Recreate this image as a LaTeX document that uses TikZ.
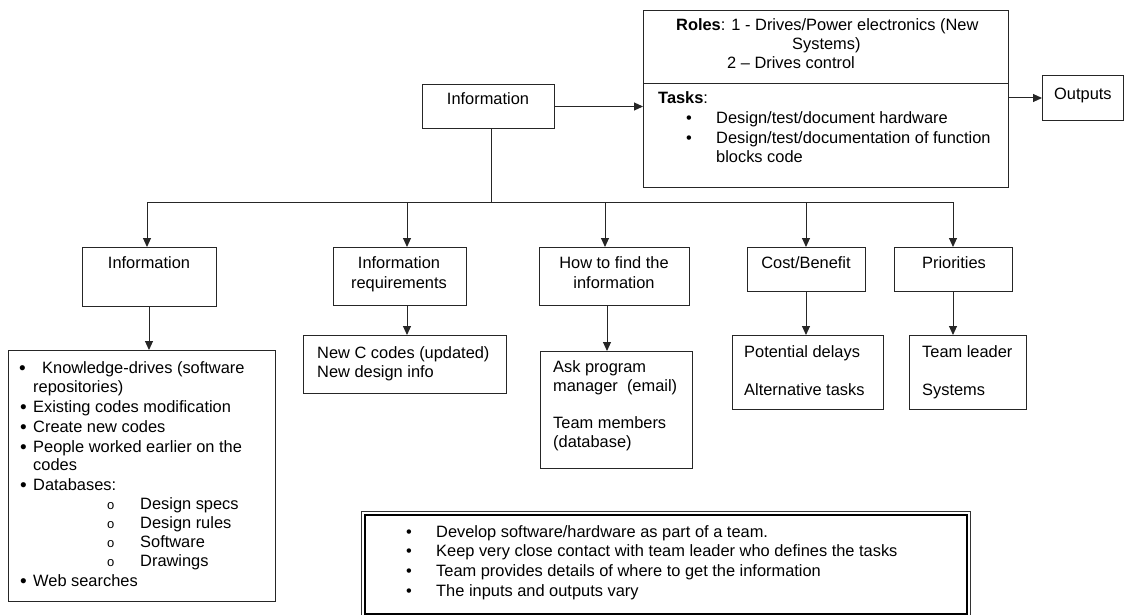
\documentclass[tikz,border=0pt]{standalone}
\usepackage{fontspec}
\setmainfont{Liberation Sans}
\usetikzlibrary{arrows.meta}
\newcommand\bodyfont{\fontsize{16.4}{19.5}\selectfont}
\begin{document}
\begin{tikzpicture}[x=1pt,y=-1pt,
  box/.style={draw=black!85, line width=1pt, inner sep=0pt, anchor=north west},
  lbl/.style={anchor=base west, inner sep=0pt, font=\bodyfont},
  clbl/.style={anchor=base, inner sep=0pt, font=\bodyfont},
  dot/.style={anchor=base west, inner sep=0pt, font=\fontsize{19}{20}\selectfont},
  sub/.style={anchor=base west, inner sep=0pt, font=\fontsize{13}{14}\selectfont},
  wire/.style={draw=black!85, line width=1pt},
  arr/.style={wire, -{Triangle[length=9pt,width=8pt]}}]
\useasboundingbox (0,0) rectangle (1125,615);

% top row
\node[box, minimum width=132pt, minimum height=44pt] (info) at (422,84) {};
\node[box, minimum width=365pt, minimum height=177pt] (rt) at (643,10) {};
\node[box, minimum width=81pt, minimum height=45pt] (out) at (1042,75) {};
\draw[wire] (rt.west |- 0,84) -- (rt.east |- 0,84);

\node[clbl] (tinfo) at (488,105) {Information};
\node[lbl] (rl1) at (676,31) {\textbf{Roles}: 1 - Drives/Power electronics (New};
\node[lbl] (rl2) at (792,50) {Systems)};
\node[lbl] (rl3) at (727,69) {2 – Drives control};
\node[lbl] (tk0) at (658,104) {\textbf{Tasks}:};
\node[lbl] (tkb1) at (686,124) {•};
\node[lbl] (tk1) at (716,124) {Design/test/document hardware};
\node[lbl] (tkb2) at (686,144) {•};
\node[lbl] (tk2) at (716,144) {Design/test/documentation of function};
\node[lbl] (tk3) at (716,163) {blocks code};
\node[lbl] (tout) at (1054,100) {Outputs};

\draw[arr] (info.east) -- (info.east -| rt.west);
\draw[arr] (out.west -| rt.east) -- (out.west);

% second row
\node[box, minimum width=134pt, minimum height=59pt] (b1) at (82,247) {};
\node[box, minimum width=133pt, minimum height=58pt] (b2) at (333,247) {};
\node[box, minimum width=150pt, minimum height=58pt] (b3) at (539,247) {};
\node[box, minimum width=118pt, minimum height=44pt] (b4) at (747,247) {};
\node[box, minimum width=118pt, minimum height=44pt] (b5) at (894,247) {};

\node[clbl] (tb1) at (149,268) {Information};
\node[clbl] (tb2a) at (399,268) {Information};
\node[clbl] (tb2b) at (399,288) {requirements};
\node[clbl] (tb3a) at (614,268) {How to find the};
\node[clbl] (tb3b) at (614,288) {information};
\node[clbl] (tb4) at (806,268) {Cost/Benefit};
\node[clbl] (tb5) at (954,268) {Priorities};

% distribution bus
\coordinate (trunk) at (491,202);
\coordinate (d1) at (147,202);
\coordinate (d2) at (407,202);
\coordinate (d3) at (605,202);
\coordinate (d4) at (806,202);
\coordinate (d5) at (953,202);
\draw[wire] (info.south -| trunk) -- (trunk);
\draw[wire] (d1) -- (d5);
\draw[arr] (d1) -- (d1 |- b1.north);
\draw[arr] (d2) -- (d2 |- b2.north);
\draw[arr] (d3) -- (d3 |- b3.north);
\draw[arr] (d4) -- (d4 |- b4.north);
\draw[arr] (d5) -- (d5 |- b5.north);

% third row
\node[box, minimum width=267pt, minimum height=251pt] (l1) at (8,350) {};
\node[box, minimum width=203pt, minimum height=58pt] (l2) at (303,335) {};
\node[box, minimum width=152pt, minimum height=117pt] (l3) at (540,351) {};
\node[box, minimum width=151pt, minimum height=74pt] (l4) at (732,335) {};
\node[box, minimum width=117pt, minimum height=74pt] (l5) at (909,335) {};

\coordinate (e1) at (149,305);
\coordinate (e2) at (407,305);
\coordinate (e3) at (607,305);
\coordinate (e4) at (806,291);
\coordinate (e5) at (953,291);
\draw[arr] (e1 |- b1.south) -- (e1 |- l1.north);
\draw[arr] (e2 |- b2.south) -- (e2 |- l2.north);
\draw[arr] (e3 |- b3.south) -- (e3 |- l3.north);
\draw[arr] (e4 |- b4.south) -- (e4 |- l4.north);
\draw[arr] (e5 |- b5.south) -- (e5 |- l5.north);

% information sources
\node[dot] (s0b) at (19,374) {•};
\node[lbl] (s0) at (42,373) {Knowledge-drives (software};
\node[lbl] (s0c) at (33,392) {repositories)};
\node[dot] (s1b) at (20,413) {•};
\node[lbl] (s1) at (33,412) {Existing codes modification};
\node[dot] (s2b) at (20,433) {•};
\node[lbl] (s2) at (33,432) {Create new codes};
\node[dot] (s3b) at (20,453) {•};
\node[lbl] (s3) at (33,452) {People worked earlier on the};
\node[lbl] (s3c) at (33,470) {codes};
\node[dot] (s4b) at (20,491) {•};
\node[lbl] (s4) at (33,490) {Databases:};
\node[sub] (d1o) at (107,509) {o};
\node[lbl] (d1t) at (140,509) {Design specs};
\node[sub] (d2o) at (107,528) {o};
\node[lbl] (d2t) at (140,528) {Design rules};
\node[sub] (d3o) at (107,547) {o};
\node[lbl] (d3t) at (140,547) {Software};
\node[sub] (d4o) at (107,566) {o};
\node[lbl] (d4t) at (140,566) {Drawings};
\node[dot] (s5b) at (20,587) {•};
\node[lbl] (s5) at (33,586) {Web searches};

\node[lbl] (r1) at (317,358) {New C codes (updated)};
\node[lbl] (r2) at (317,377) {New design info};

\node[lbl] (h1) at (553,372) {Ask program};
\node[lbl] (h2) at (553,391) {manager\ \ (email)};
\node[lbl] (h3) at (553,428) {Team members};
\node[lbl] (h4) at (553,447) {(database)};

\node[lbl] (c1) at (744,357) {Potential delays};
\node[lbl] (c2) at (744,395) {Alternative tasks};

\node[lbl] (p1) at (922,357) {Team leader};
\node[lbl] (p2) at (922,395) {Systems};

% summary panel with double frame
\coordinate (fo1) at (361,615);
\coordinate (fo2) at (361,511);
\coordinate (fo3) at (970,511);
\coordinate (fo4) at (970,615);
\draw[draw=black!80, line width=1pt] (fo1) -- (fo2) -- (fo3) -- (fo4);
\node[box, line width=2.2pt, draw=black, minimum width=602pt, minimum height=99pt] (sum) at (364,514) {};
\node[lbl] (m1b) at (406,537) {•};
\node[lbl] (m1) at (436,537) {Develop software/hardware as part of a team.};
\node[lbl] (m2b) at (406,556) {•};
\node[lbl] (m2) at (436,556) {Keep very close contact with team leader who defines the tasks};
\node[lbl] (m3b) at (406,576) {•};
\node[lbl] (m3) at (436,576) {Team provides details of where to get the information};
\node[lbl] (m4b) at (406,596) {•};
\node[lbl] (m4) at (436,596) {The inputs and outputs vary};
\end{tikzpicture}
\end{document}
